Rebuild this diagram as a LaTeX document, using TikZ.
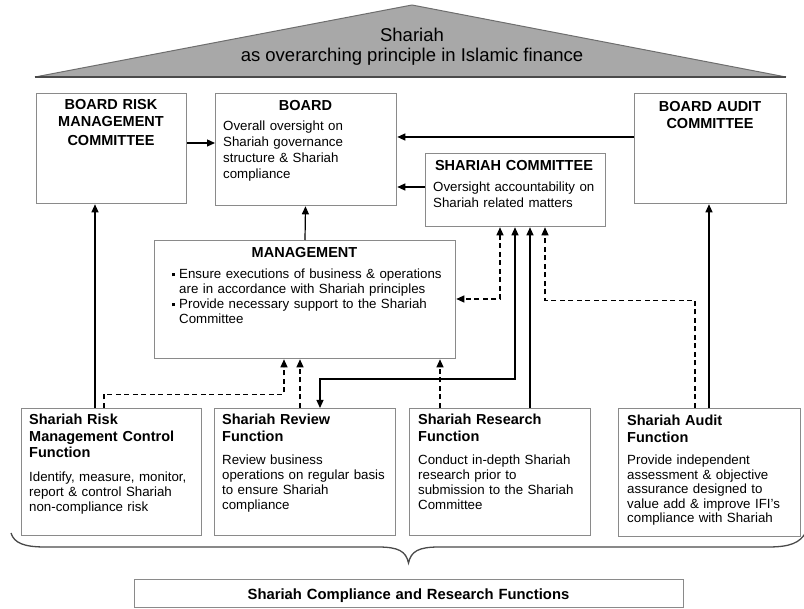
\documentclass[tikz,border=0pt]{standalone}
\usepackage{fontspec}
\setmainfont{Liberation Sans}
\usetikzlibrary{arrows.meta}
\definecolor{boxline}{HTML}{8A8A8A}
\definecolor{roofgray}{HTML}{A8A8A8}
\definecolor{roofline}{HTML}{6E6E6E}
\definecolor{bracegray}{HTML}{4A4A4A}
\begin{document}
\begin{tikzpicture}[x=1pt,y=-1pt,
  box/.style={draw=boxline, line width=1.3pt, fill=white, rectangle, inner sep=0pt, anchor=north west},
  ctitle/.style={inner sep=0pt, font=\fontsize{14.5}{16.8}\selectfont\bfseries, align=center, anchor=base},
  ltitle/.style={inner sep=0pt, font=\fontsize{14.5}{16.5}\selectfont\bfseries, align=left, anchor=base west, text width=172pt},
  desc/.style={inner sep=0pt, font=\fontsize{13.3}{14.8}\selectfont, align=left, anchor=base west},
  arr/.style={draw=black, line width=1.2pt, -{Triangle[length=8pt,width=7pt]}},
  darr/.style={arr, dash pattern=on 5pt off 3.5pt},
  biarr/.style={draw=black, line width=1.2pt, {Triangle[length=8pt,width=7pt]}-{Triangle[length=8pt,width=7pt]}},
  dbiarr/.style={biarr, dash pattern=on 5pt off 3.5pt}
]
\useasboundingbox (0,0) rectangle (804,609);
% roof
\fill[roofgray] (35,77) -- (412,5) -- (786,77) -- cycle;
\draw[roofline, line width=1pt, line join=round] (35,77) -- (412,5) -- (786,77);
\draw[bracegray, line width=1.8pt] (35,77) -- (786,77);
\node[inner sep=0pt, font=\fontsize{18.5}{20}\selectfont, anchor=base] (sh1) at (412,42) {Shariah};
\node[inner sep=0pt, font=\fontsize{18.5}{20}\selectfont, anchor=base] (sh2) at (412,62) {as overarching principle in Islamic finance};

% boxes
\node[box, minimum width=150pt, minimum height=110pt] (brmc) at (36,93) {};
\node[box, minimum width=181pt, minimum height=112pt] (board) at (215,93) {};
\node[box, minimum width=152pt, minimum height=110pt] (bac) at (634,93) {};
\node[box, minimum width=180pt, minimum height=73pt] (sc) at (425,153) {};
\node[box, minimum width=301pt, minimum height=118pt] (mgmt) at (154,240) {};
\node[box, minimum width=180pt, minimum height=127pt] (srm) at (21,408) {};
\node[box, minimum width=181pt, minimum height=127pt] (srv) at (214,408) {};
\node[box, minimum width=181pt, minimum height=127pt] (srs) at (409,408) {};
\node[box, minimum width=182pt, minimum height=128pt] (sad) at (618,408) {};
\node[box, minimum width=549pt, minimum height=28pt] (lbl) at (134,579) {};

% texts
\node[ctitle, text width=150pt] (brmcT) at (111,110) {BOARD RISK\\MANAGEMENT\\[2pt]COMMITTEE};
\node[ctitle, text width=181pt] (boardT) at (305.5,110.5) {BOARD};
\node[desc, text width=170pt, font=\fontsize{13.3}{15.7}\selectfont] (boardD) at (223,131) {Overall oversight on\\Shariah governance\\structure \& Shariah\\compliance};
\node[ctitle, text width=152pt, font=\fontsize{14.5}{17.5}\selectfont\bfseries] (bacT) at (710,111.5) {BOARD AUDIT\\COMMITTEE};
\node[ctitle, text width=180pt] (scT) at (514,171) {SHARIAH COMMITTEE};
\node[desc, text width=172pt, font=\fontsize{13.3}{16}\selectfont] (scD) at (433,192) {Oversight accountability on\\Shariah related matters};
\node[ctitle, text width=301pt] (mgmtT) at (304.5,258) {MANAGEMENT};
\node[desc, text width=280pt, font=\fontsize{13.3}{15}\selectfont] (mgmtD) at (172,279) {\makebox[7pt][l]{\rule[2.5pt]{3.2pt}{3.2pt}}Ensure executions of business \& operations\\\hspace*{7pt}are in accordance with Shariah principles\\\makebox[7pt][l]{\rule[2.5pt]{3.2pt}{3.2pt}}Provide necessary support to the Shariah\\\hspace*{7pt}Committee};

\node[ltitle] (srmT) at (29,425) {Shariah Risk\\Management Control\\Function};
\node[desc, text width=172pt] (srmD) at (29,482) {Identify, measure, monitor,\\report \& control Shariah\\non-compliance risk};
\node[ltitle] (srvT) at (222,425) {Shariah Review\\Function};
\node[desc, text width=172pt] (srvD) at (222,465) {Review business\\operations on regular basis\\to ensure Shariah\\compliance};
\node[ltitle] (srsT) at (418,425) {Shariah Research\\Function};
\node[desc, text width=172pt] (srsD) at (418,465) {Conduct in-depth Shariah\\research prior to\\submission to the Shariah\\Committee};
\node[ltitle] (sadT) at (627,426) {Shariah Audit\\Function};
\node[desc, text width=172pt, font=\fontsize{13.3}{14.4}\selectfont] (sadD) at (627,465) {Provide independent\\assessment \& objective\\assurance designed to\\value add \& improve IFI's\\compliance with Shariah};
\node[ctitle, text width=549pt, font=\fontsize{14.8}{16}\selectfont\bfseries] (lblT) at (408.5,599) {Shariah Compliance and Research Functions};

% connectors
\draw[arr] ([yshift=-50pt]brmc.north east) -- ([yshift=-50pt]board.north west);
\draw[arr] ([yshift=-44pt]bac.north west) -- ([yshift=-44pt]board.north east);
\draw[arr] ([yshift=-34pt]sc.north west) -- ([yshift=-94pt]board.north east);
\draw[arr] ([xshift=151pt]mgmt.north west) -- ([xshift=90.5pt]board.south west);
\draw[arr] ([xshift=74pt]srm.north west) -- ([xshift=59pt]brmc.south west);
\draw[darr] ([xshift=83pt]srm.north west) |- ([xshift=130pt,yshift=-35pt]mgmt.south west) -- ([xshift=130pt]mgmt.south west);
\draw[darr] ([xshift=86pt]srv.north west) -- ([xshift=146pt]mgmt.south west);
\draw[biarr] ([xshift=90pt]sc.south west) |- ([xshift=106pt,yshift=29pt]srv.north west) -- ([xshift=106pt]srv.north west);
\draw[dbiarr] ([xshift=75pt]sc.south west) |- ([yshift=-59pt]mgmt.north east);
\draw[arr] ([xshift=121pt]srs.north west) -- ([xshift=105pt]sc.south west);
\draw[darr] ([xshift=77pt]sad.north west) |- ([xshift=120pt,yshift=-73pt]sc.south west) -- ([xshift=120pt]sc.south west);
\draw[arr] ([xshift=91pt]sad.north west) -- ([xshift=75pt]bac.south west);
\draw[darr] ([xshift=31pt]srs.north west) -- ([xshift=286pt]mgmt.south west);

% brace
\draw[bracegray, line width=1.3pt] (11,533) .. controls (14,543) and (24,547) .. (45,547) -- (378,547) .. controls (398,547) and (406,551) .. (408.5,563) .. controls (411,551) and (419,547) .. (439,547) -- (768,547) .. controls (790,547) and (800,543) .. (806,532);
\end{tikzpicture}
\end{document}
